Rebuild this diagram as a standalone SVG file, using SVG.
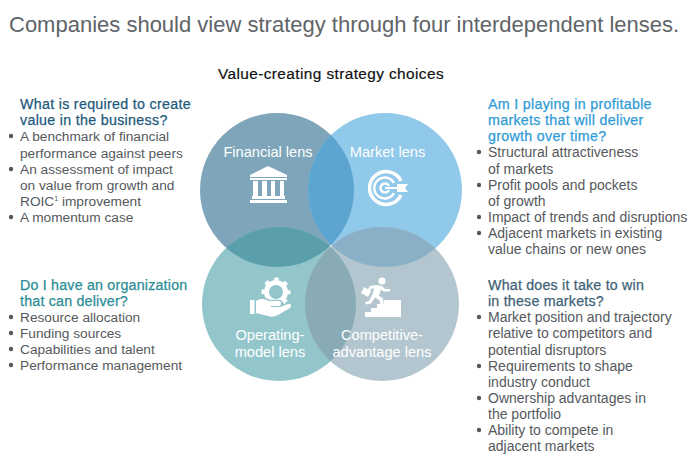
<svg xmlns="http://www.w3.org/2000/svg" width="700" height="468" viewBox="0 0 700 468">
<style>
text{font-family:"Liberation Sans",Arial,sans-serif}
.t{font-size:22px;fill:#5f6468}
.h{font-size:15.4px;letter-spacing:.4px;fill:#111;stroke:#111;stroke-width:.2px}
.b{font-size:14px;fill:#55595d}
.s{font-size:13.7px;fill:#55595d}
.q{font-size:14.25px;letter-spacing:.2px;stroke-width:.25px}
.w{letter-spacing:.3px}
.l{font-size:14.6px;fill:#fff;text-anchor:middle}
.d{fill:#55595d}
.i{fill:#fff}
.n{fill:#1d5a7c;stroke:#1d5a7c}
.g{fill:#2b8d96;stroke:#2b8d96}
.m{fill:#2f9bd6;stroke:#2f9bd6}
.c{fill:#3f6376;stroke:#3f6376}
</style>
<defs>
<clipPath id="cTL"><circle cx="277" cy="190" r="77"/></clipPath>
<clipPath id="cTR"><circle cx="385" cy="190" r="77"/></clipPath>
<clipPath id="cBL"><circle cx="279" cy="304" r="77"/></clipPath>
<clipPath id="cBR"><circle cx="382" cy="304" r="77"/></clipPath>
</defs>
<rect width="700" height="468" fill="#fff"/>
<text class="t" x="9" y="32">Companies should view strategy through four interdependent lenses.</text>
<text class="h" x="218" y="79">Value-creating strategy choices</text>
<g id="circles">
<circle cx="277" cy="190" r="77" fill="#7ea5b9"/>
<circle cx="385" cy="190" r="77" fill="#90c9ea"/>
<circle cx="279" cy="304" r="77" fill="#93c6cb"/>
<circle cx="382" cy="304" r="77" fill="#b3c6cf"/>
<g clip-path="url(#cTL)"><circle cx="385" cy="190" r="77" fill="#5ca5d0"/><circle cx="279" cy="304" r="77" fill="#5b9fac"/></g>
<g clip-path="url(#cBR)"><circle cx="385" cy="190" r="77" fill="#8ab0c8"/><circle cx="279" cy="304" r="77" fill="#88abb6"/></g>
</g>
<g id="financial-lens">
<text class="l" x="268" y="157">Financial lens</text>
<path class="i" d="M268 166L287 175V177H250V175Z"/>
<rect class="i" x="250" y="178" width="37" height="2"/>
<path class="i" d="M253 181h5v15h-5zM262 181h5v15h-5zM271 181h4v15h-4zM280 181h4v15h-4z"/>
<rect class="i" x="252" y="196" width="33" height="3"/>
<rect class="i" x="250" y="200" width="37" height="3"/>
</g>
<g id="market-lens">
<text class="l" x="387.500" y="157">Market lens</text>
<g fill="none" stroke="#fff">
<path stroke-width="3.500" d="M401 181A16.500 16.500 0 1 0 401 195"/>
<path stroke-width="2.500" d="M394 183A10.500 10.500 0 1 0 394 193"/>
<path stroke-width="2.500" d="M389 186A4.500 4.500 0 1 0 389 190"/>
</g>
<path d="M385 187H400V189H385Z" class="i"/>
<path class="i" d="M397 184H408L405 188L408 192H397Z"/>
</g>
<g id="operating-model-lens">
<circle cx="276" cy="292" r="9.500" fill="none" stroke="#fff" stroke-width="5"/>
<circle cx="276" cy="292" r="13" fill="none" stroke="#fff" stroke-width="3" stroke-dasharray="4.500 5.710" stroke-dashoffset="2.250"/>
<path d="M255 300c5-3 10-2 14 1h10c3 0 3 4 0 5h-8v1h9l8-3c3-1 4 2 2 4l-12 7c-4 2-7 2-10 1l-13-3z" fill="#93c6cb" stroke="#93c6cb" stroke-width="2.500"/>
<rect class="i" x="250" y="300" width="4.500" height="14"/>
<path class="i" d="M256 301c5-3 9-2 13 0h10c3 0 3 4 0 5h-8v1h9l8-3c3-1 4 2 2 4l-12 7c-4 2-7 2-10 1l-12-3z"/>
<text class="l" x="270" y="340">Operating-</text>
<text class="l" x="270" y="357">model lens</text>
</g>
<g id="competitive-advantage-lens">
<circle class="i" cx="382" cy="281" r="3.500"/>
<path class="i" d="M376 285l6 1 3 3 5 0v2.500l-6.500 0-2.500-2-2 6 4 3 1 8h-3l-1.500-6-4.500-3-4 6-5 1-1-2.500 4-1 4-8 1-5-3 1-2 3-2-1 3-5z"/>
<path class="i" d="M364 287l7 4-3 6-7-4z"/>
<path class="i" d="M365 317v-5h6v-4h6v-4h7v-4h17v17z"/>
<text class="l" x="382" y="340">Competitive-</text>
<text class="l" x="382" y="357">advantage lens</text>
</g>
<g id="q-financial">
<text class="q n w" x="20" y="109">What is required to create</text>
<text class="q n w" x="20" y="125">value in the business?</text>
<circle class="d" cx="11" cy="136" r="2.200"/><circle class="d" cx="11" cy="169" r="2.200"/><circle class="d" cx="11" cy="217" r="2.200"/>
<text class="s" x="20" y="141">A benchmark of financial</text>
<text class="s" x="20" y="158">performance against peers</text>
<text class="s" x="20" y="174">An assessment of impact</text>
<text class="s" x="20" y="190">on value from growth and</text>
<text class="s" x="20" y="206">ROIC<tspan font-size="7" dy="-5">1</tspan><tspan dy="5"> improvement</tspan></text>
<text class="s" x="20" y="222">A momentum case</text>
</g>
<g id="q-organization">
<text class="q g" x="20" y="290">Do I have an organization</text>
<text class="q g" x="20" y="306">that can deliver?</text>
<circle class="d" cx="11" cy="317" r="2.200"/><circle class="d" cx="11" cy="333" r="2.200"/><circle class="d" cx="11" cy="349" r="2.200"/><circle class="d" cx="11" cy="365" r="2.200"/>
<text class="s" x="20" y="322">Resource allocation</text>
<text class="s" x="20" y="338">Funding sources</text>
<text class="s" x="20" y="354">Capabilities and talent</text>
<text class="s" x="20" y="370">Performance management</text>
</g>
<g id="q-market">
<text class="q m w" x="488" y="109">Am I playing in profitable</text>
<text class="q m w" x="488" y="125">markets that will deliver</text>
<text class="q m w" x="488" y="141">growth over time?</text>
<circle class="d" cx="479" cy="152" r="2.200"/><circle class="d" cx="479" cy="185" r="2.200"/><circle class="d" cx="479" cy="217" r="2.200"/><circle class="d" cx="479" cy="233" r="2.200"/>
<text class="b" x="488" y="157">Structural attractiveness</text>
<text class="b" x="488" y="174">of markets</text>
<text class="b" x="488" y="190">Profit pools and pockets</text>
<text class="b" x="488" y="206">of growth</text>
<text class="b" x="488" y="222">Impact of trends and disruptions</text>
<text class="b" x="488" y="238">Adjacent markets in existing</text>
<text class="b" x="488" y="254">value chains or new ones</text>
</g>
<g id="q-competitive">
<text class="q c" x="488" y="290">What does it take to win</text>
<text class="q c" x="488" y="306">in these markets?</text>
<circle class="d" cx="479" cy="317" r="2.200"/><circle class="d" cx="479" cy="366" r="2.200"/><circle class="d" cx="479" cy="398" r="2.200"/><circle class="d" cx="479" cy="430" r="2.200"/>
<text class="b" x="488" y="322">Market position and trajectory</text>
<text class="b" x="488" y="338">relative to competitors and</text>
<text class="b" x="488" y="355">potential disruptors</text>
<text class="b" x="488" y="371">Requirements to shape</text>
<text class="b" x="488" y="387">industry conduct</text>
<text class="b" x="488" y="403">Ownership advantages in</text>
<text class="b" x="488" y="419">the portfolio</text>
<text class="b" x="488" y="435">Ability to compete in</text>
<text class="b" x="488" y="451">adjacent markets</text>
</g>
</svg>
